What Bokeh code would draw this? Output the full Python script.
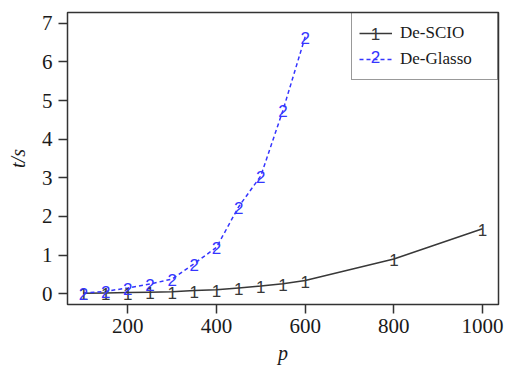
from bokeh.plotting import figure
from bokeh.models import ColumnDataSource, Range1d, FixedTicker, Legend, LegendItem, Label
from bokeh.core.properties import value
from bokeh.embed import file_html
from bokeh.resources import INLINE

# data
p_scio = [100, 150, 200, 250, 300, 350, 400, 450, 500, 550, 600, 800, 1000]
t_scio = [0.01, 0.02, 0.03, 0.04, 0.05, 0.08, 0.10, 0.15, 0.20, 0.26, 0.34, 0.90, 1.68]
p_glasso = [100, 150, 200, 250, 300, 350, 400, 450, 500, 550, 600]
t_glasso = [0.02, 0.06, 0.15, 0.25, 0.38, 0.78, 1.20, 2.25, 3.05, 4.75, 6.65]
x_ticks = [200, 400, 600, 800, 1000]
y_ticks = [0, 1, 2, 3, 4, 5, 6, 7]
series_names = ["De-SCIO", "De-Glasso"]

SERIF = "Liberation Serif"
SANS = "Liberation Sans"
C1 = "#383838"
C2 = "#3535ff"

p = figure(width=510, height=374, output_backend="svg", toolbar_location=None,
           x_range=Range1d(64, 1036), y_range=Range1d(-0.28, 7.28),
           min_border_left=67, min_border_right=12, min_border_top=12, min_border_bottom=70)
p.grid.visible = False
p.outline_line_color = "#333333"
p.outline_line_width = 1.5
p.background_fill_color = "white"

for ax in (p.xaxis[0], p.yaxis[0]):
    ax.axis_line_color = None
    ax.major_tick_in = 0
    ax.major_tick_out = 9
    ax.major_tick_line_color = "#333333"
    ax.major_tick_line_width = 1.5
    ax.minor_tick_line_color = None
    ax.major_label_text_font = SERIF
    ax.major_label_text_font_size = "21px"
    ax.major_label_text_color = "#1a1a1a"
    ax.axis_label_text_font = SERIF
    ax.axis_label_text_font_size = "20px"
    ax.axis_label_text_font_style = "italic"
    ax.axis_label_text_color = "#1a1a1a"

p.xaxis.ticker = FixedTicker(ticks=x_ticks)
p.yaxis.ticker = FixedTicker(ticks=y_ticks)
p.xaxis.axis_label = "p"
p.yaxis.axis_label = "t/s"
p.xaxis.major_label_standoff = 5
p.yaxis.major_label_standoff = 6
p.xaxis.axis_label_standoff = 6
p.yaxis.axis_label_standoff = 10
p.yaxis.major_label_orientation = "horizontal"

s1 = ColumnDataSource(dict(x=p_scio, y=t_scio, lab=["1"] * len(p_scio)))
s2 = ColumnDataSource(dict(x=p_glasso, y=t_glasso, lab=["2"] * len(p_glasso)))

l1 = p.line("x", "y", source=s1, line_color=C1, line_width=1.5)
l2 = p.line("x", "y", source=s2, line_color=C2, line_width=1.5, line_dash="4 3")
p.text("x", "y", text="lab", source=s1, text_align="center", text_baseline="middle",
       text_font=value(SANS), text_font_size="17px", text_color=C1, y_offset=1)
p.text("x", "y", text="lab", source=s2, text_align="center", text_baseline="middle",
       text_font=value(SANS), text_font_size="17px", text_color=C2, y_offset=1)

legend = Legend(items=[LegendItem(label=series_names[0], renderers=[l1]),
                       LegendItem(label=series_names[1], renderers=[l2])],
                location="top_right", margin=0, padding=7, spacing=0,
                glyph_width=33, glyph_height=26, label_height=26, label_width=90,
                label_standoff=8, label_text_font=SERIF, label_text_font_size="17px",
                label_text_color="#1a1a1a", border_line_color="#333333",
                border_line_width=1.2, background_fill_alpha=0.0)
p.add_layout(legend)

p.add_layout(Label(x=308, y=271, x_units="screen", y_units="screen", text="1",
                   text_align="center", text_baseline="middle", text_font=SANS,
                   text_font_size="17px", text_color=C1, level="overlay"))
p.add_layout(Label(x=308, y=248, x_units="screen", y_units="screen", text="2",
                   text_align="center", text_baseline="middle", text_font=SANS,
                   text_font_size="17px", text_color=C2, level="overlay"))

open("out.html", "w").write(file_html(p, INLINE))
